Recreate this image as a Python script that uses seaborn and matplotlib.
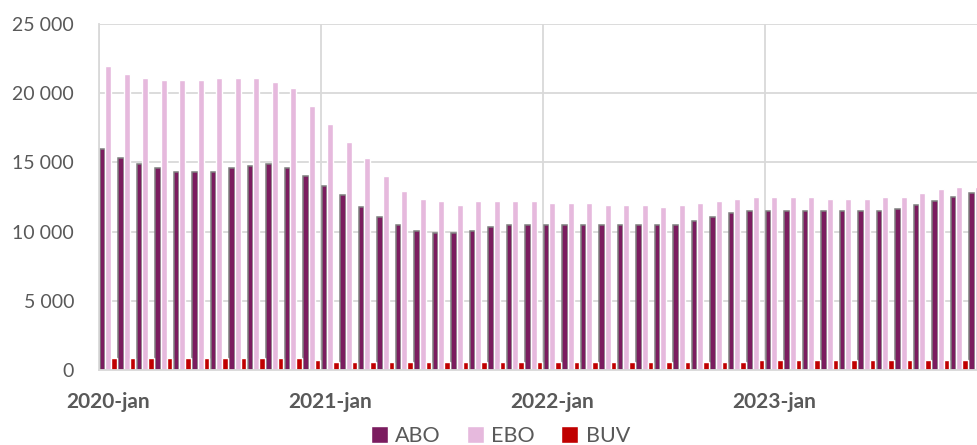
import numpy as np
import pandas as pd
import matplotlib
matplotlib.use("Agg")
import matplotlib.pyplot as plt
import matplotlib.ticker as mticker
import seaborn as sns

# monthly values, 2020-jan .. 2023-dec
months = [f"{y}-{m:02d}" for y in range(2020, 2024) for m in range(1, 13)]

abo = [15950, 15290, 14880, 14600, 14310, 14310, 14310, 14600, 14740, 14880, 14600, 14020,
       13310, 12620, 11760, 11050, 10480, 10020, 9880, 9880, 10020, 10310, 10480, 10480,
       10480, 10480, 10480, 10480, 10480, 10480, 10480, 10480, 10760, 11050, 11330, 11480,
       11480, 11480, 11480, 11480, 11480, 11480, 11480, 11620, 11900, 12190, 12480, 12760]

ebo = [21950, 21360, 21070, 20930, 20930, 20930, 21070, 21070, 21070, 20790, 20360, 19070,
       17790, 16480, 15310, 14050, 12930, 12330, 12190, 11900, 12190, 12190, 12190, 12190,
       12050, 12050, 12050, 11930, 11930, 11930, 11790, 11930, 12050, 12210, 12360, 12500,
       12500, 12500, 12500, 12360, 12360, 12360, 12500, 12500, 12790, 13070, 13210, 13210]

buv = [850, 850, 850, 850, 850, 850, 850, 850, 850, 850, 850, 720,
       560, 560, 560, 560, 560, 560, 560, 560, 560, 560, 560, 560,
       560, 560, 560, 560, 560, 560, 560, 560, 560, 560, 560, 720,
       720, 720, 720, 720, 720, 720, 720, 720, 720, 720, 720, 720]

series = ["ABO", "EBO", "BUV"]
colors = {"ABO": "#7b1c5f", "EBO": "#e6b9dd", "BUV": "#c00000"}
year_labels = ["2020-jan", "2021-jan", "2022-jan", "2023-jan"]

df = pd.DataFrame({"month": months * 3,
                   "value": abo + ebo + buv,
                   "series": np.repeat(series, len(months))})

sns.set_theme(style="white")
plt.rcParams["font.family"] = ["Lato", "DejaVu Sans"]

fig = plt.figure(figsize=(9.77, 4.45), dpi=100)
ax = fig.add_axes([99 / 977, 75 / 445, 1 - 99 / 977, 346 / 445])

sns.barplot(data=df, x="month", y="value", hue="series", palette=colors,
            width=0.93, gap=0, saturation=1, errorbar=None, ax=ax)

# grey outline on ABO bars like the original
for p in ax.containers[0]:
    p.set_edgecolor("#7f7f7f")
    p.set_linewidth(1.1)

grid_col = "#d9d9d9"
txt_col = "#595959"

ax.set_xlim(-0.5, 46.96)
ax.set_ylim(0, 25000)
ax.yaxis.set_major_locator(mticker.MultipleLocator(5000))
ax.yaxis.set_major_formatter(mticker.FuncFormatter(lambda v, p: f"{v:,.0f}".replace(",", " ")))

ax.set_xticks([0, 12, 24, 36], year_labels)
ax.set_xticks([-0.5, 11.5, 23.5, 35.5], minor=True)
ax.tick_params(axis="x", which="major", length=0, pad=16, labelsize=15, labelcolor=txt_col)
ax.tick_params(axis="x", which="minor", length=5, width=1.2, color=grid_col, direction="out")
ax.tick_params(axis="y", length=0, pad=18, labelsize=14, labelcolor=txt_col)
for t in ax.get_xticklabels():
    t.set_fontweight("bold")

ax.grid(axis="y", color=grid_col, linewidth=1.3)
ax.grid(axis="x", which="minor", color=grid_col, linewidth=1.3)
ax.set_axisbelow(True)
ax.set_xlabel("")
ax.set_ylabel("")

for s in ["top", "right"]:
    ax.spines[s].set_visible(False)
for s in ["left", "bottom"]:
    ax.spines[s].set_color(grid_col)
    ax.spines[s].set_linewidth(1.3)

handles, labels = ax.get_legend_handles_labels()
ax.get_legend().remove()
leg = fig.legend(handles, labels, loc="center", bbox_to_anchor=(0.512, 0.02), ncol=3,
                 frameon=False, fontsize=15.5, handlelength=0.8, handleheight=0.8,
                 handletextpad=0.35, columnspacing=1.2, labelcolor=txt_col)

fig.savefig("out.png", dpi=100)
